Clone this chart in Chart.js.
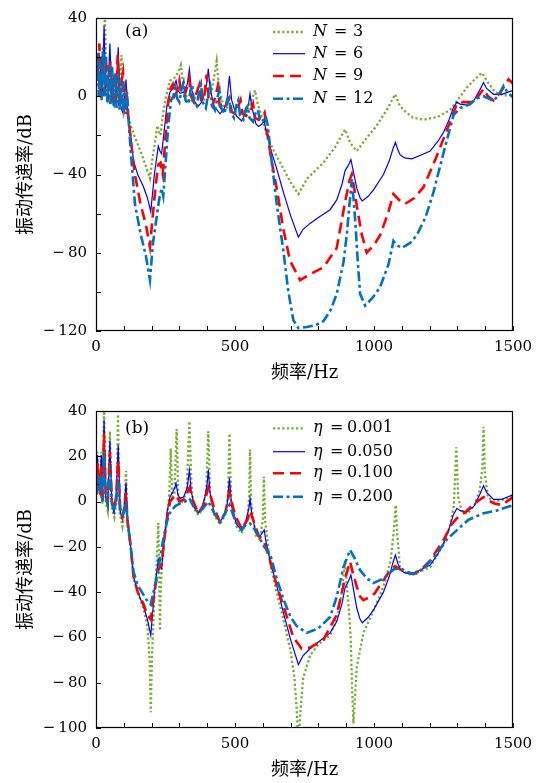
<!DOCTYPE html>
<html>
<head>
<meta charset="utf-8">
<script src="https://cdn.jsdelivr.net/npm/chart.js@4"></script>
<style>
html,body{margin:0;padding:0;background:#fff;}
#wa{position:absolute;left:0;top:0;width:542px;height:390px;}
#wb{position:absolute;left:0;top:392px;width:542px;height:391px;}
</style>
</head>
<body>
<div id="wa"><canvas id="ca"></canvas></div>
<div id="wb"><canvas id="cb"></canvas></div>
<script>
// ---------------- Data: panel (a) ----------------
const labelsA = ['3', '6', '9', '12'];
const fN3 = [2,10,18,26,32,38,50,62,72,85,92,97,105,116,125,140,160,180,194,205,214,220,226,232,240,252,266,280,295,305,312,325,338,355,370,385,400,415,425,434,442,458,475,500,530,550,565,572,580,595,614,640,674,700,728,760,818,860,896,915,938,970,1010,1050,1076,1090,1106,1140,1178,1230,1274,1300,1334,1365,1388,1410,1436,1466,1500];
const vN3 = [8,15,3,10,42,5,2,6,-1,5,21,0,-4,-10,-15,-21,-28,-36,-42,-30,-22,-15,-18,-20,-10,0,8,9,12,16,8,0,-3,-1,1,-2,-1,2,10,18,5,-5,-6,-8,-8,-6,0,3,-3,-10,-20,-28,-37,-44,-50,-42,-34,-26,-17,-24,-28,-22,-15,-6,1,-4,-7,-11,-12,-10.5,-7,-2,4.5,9,12,7,2,0.5,0.5];

const fN6 = [1,5,9,13,19,23,29,35,42,50,57,65,72,80,87,95,101,108,113,116,125,135,150,170,185,197,210,224,230,236,245,255,266,275,283,288,295,302,315,328,336,342,355,368,380,392,400,404,410,425,446,462,472,480,488,505,524,540,550,554,560,575,585,595,605,612,626,650,674,700,728,745,770,800,842,866,885,896,905,912,917,928,938,950,958,980,1000,1034,1055,1068,1077,1085,1094,1110,1136,1170,1202,1230,1250,1270,1285,1298,1310,1334,1360,1380,1394,1405,1430,1460,1480,1500];
const vN6 = [5,20.5,8,5,20.5,0,36,2,-2,27,-1,-5,2,25,-4,-8,-3,8.5,-7,-10,-20,-33,-40,-46,-52,-59,-40,-25.5,-28,-29.5,-18,-5,2,4,6,8,3,1.5,2,6,13.8,5,-3,-5,-3,2,8,14,4,-5,-9,-6,-1,10.3,-2,-10,-12.6,-8,-3,1.3,-5,-14,-15.5,-14.5,-12.5,-18,-26,-37,-49,-61,-72,-68,-65,-62,-58,-53,-45,-38,-36,-34,-32.4,-40,-47,-52,-53.5,-51,-47.5,-40,-33,-27,-23.6,-27,-30,-31.5,-32,-30,-28,-23,-18.5,-12,-6,-3,-4,-4.5,-2,3,7,4,1,1,2,3];

const fN9 = [2,8,12,16,24,30,38,44,52,58,66,72,78,84,92,97,102,110,116,125,140,160,180,194,205,215,224,232,240,248,258,268,276,282,290,300,306,318,328,335,342,352,362,372,378,388,398,405,418,430,438,445,458,470,480,488,500,512,520,527,540,555,565,572,585,598,606,614,630,650,674,698,734,770,818,866,896,912,920,930,938,955,974,1000,1022,1050,1070,1090,1112,1145,1178,1226,1274,1298,1320,1358,1380,1394,1410,1430,1455,1484,1500];
const vN9 = [8,15,27,2,20,0,16,-2,18,-3,12,-4,21,-5,8,12,-6,0,-10,-22,-40,-55,-66,-77,-60,-45,-35,-34,-40,-25,-5,4,6,0,2,8,1,0,5,9,0,-3,2,6,-2,-2,11,-1,-5,0,5,-5,-7,-4,-1,-8,-9,-5,-2,-9,-10,-8,-4,-11,-12,-9,-8,-17,-32,-47,-68,-84,-94,-91,-87.5,-77.5,-54,-43,-40,-48,-56,-70,-80,-76,-71,-60,-50,-53,-55,-52,-46.5,-30.5,-13,-4,-3,-3,1,3.7,0,-2.2,2,8.7,6.5];

const fN12 = [2,6,10,15,20,25,30,36,41,47,52,58,63,69,74,80,85,91,96,102,107,112,116,125,140,160,180,194,205,218,228,236,242,250,260,270,278,285,292,300,308,315,322,332,340,346,352,362,372,378,384,395,405,411,417,428,438,444,450,462,472,478,484,496,506,512,518,530,540,546,552,565,575,582,590,600,610,618,626,650,674,692,710,728,758,790,818,845,866,890,902,912,920,928,934,942,950,968,995,1022,1052,1070,1080,1100,1130,1154,1185,1214,1250,1286,1310,1346,1370,1394,1410,1430,1450,1466,1480,1500];
const vN12 = [10,22,0,18,-2,25,0,20,-3,16,-4,15,-5,12,-6,11,-7,8,-8,6,-9,2,-10,-28,-55,-70,-82,-94,-75,-62,-52,-47,-51,-35,-15,-2,0,4,-1,-3,4,7,-2,-4,3,6,-3,-5,3,6,-3,-6,2,5,-4,-7,0,3,-6,-9,-2,1,-8,-11,-4,-2,-10,-12,-6,-5,-11,-13,-8,-7,-12,-13,-10,-15,-26,-55,-79,-100,-114.5,-118.5,-118,-117,-115,-109,-101,-85,-71,-55,-42.5,-55,-67,-85,-101,-107,-103,-97.5,-86,-74,-76,-77.5,-75,-71,-62,-49,-29,-9.7,-6,-4,-1,0,-1,-2.4,1,5.3,2,-0.5];

// ---------------- Data: panel (b) ----------------
const labelsB = ['0.001', '0.050', '0.100', '0.200'];
const fE1 = [2,5,8,13,19,23,29,35,42,50,57,66,74,79,85,95,102,108,113,125,135,150,170,185,193,197,201,210,218,224,227,230,233,240,255,263,269,274,282,290,296,310,326,336,343,352,368,385,397,404,410,425,446,465,475,480,486,505,524,545,551,554,558,575,590,600,604,608,626,650,674,700,714,722,728,734,745,770,800,842,866,884,896,903,910,916,922,926,930,938,962,1002,1034,1060,1072,1078,1084,1094,1136,1202,1250,1275,1287,1296,1303,1315,1334,1360,1380,1390,1394,1399,1410,1430,1470,1500];
const vE1 = [5,22,6,3,22,-1,42,0,-4,31,-3,-7,0,38.5,-5,-11,-4,13.5,-10,-21,-34,-40,-47,-55,-70,-93,-70,-42,-28,-9.5,-30,-57,-38,-22,-8,2,23.5,2,3,32,3,0,4,35.5,8,-3,-6,-3,6,31,4,-6,-10,-6,3,30,0,-11,-14,-7,2,23,-1,-15,-17,-8,11,-8,-27,-40,-52,-66,-78,-92,-108,-95,-78,-68,-63,-59,-52,-40,-26,-38,-48,-60,-85,-98,-90,-73,-58,-47,-37.6,-26,-12,-1.5,-15,-30,-32.5,-29,-19,-10,-2,24,2,-4,-5.5,-2,5,15,33,12,2,0,1,3];
const fE2 = fN6;   // eta = 0.050 is the same response as N = 6
const vE2 = vN6;
const fE3 = [2,5,10,14,19,23,29,35,42,50,57,65,72,80,87,95,101,108,113,125,135,150,170,185,197,210,224,236,250,266,280,288,300,318,336,350,368,385,404,425,446,465,480,500,524,545,554,565,585,605,626,650,674,710,740,770,818,866,896,914,925,938,950,962,980,1002,1034,1060,1076,1095,1118,1140,1170,1202,1250,1280,1298,1330,1360,1394,1430,1460,1500];
const vE3 = [5,17,7,5,17,0,30,2,-1,22,0,-4,2,18,-3,-7,-3,4,-8,-20,-33,-40,-45,-50,-52,-40,-30,-28,-12,0,2,3,0,1,6,0,-5,-2,6,-3,-9,-5,4,-6,-12,-8,-4,-8,-15,-18,-26,-37,-46,-60,-65,-64.5,-61,-50,-34,-26.5,-32,-37.6,-42,-43.5,-42.5,-40.6,-34.7,-30,-28.5,-30,-31,-32,-30,-26,-17,-10,-7.4,-4.5,-1,2,-0.8,-1.5,2];
const fE4 = [2,5,10,14,19,23,29,35,42,50,57,65,72,80,87,95,101,108,113,125,135,150,170,185,197,210,224,240,255,266,285,300,320,336,350,368,385,404,425,446,465,480,500,524,540,554,575,605,626,650,674,700,722,758,800,842,866,890,914,930,950,975,998,1034,1070,1094,1130,1154,1190,1226,1260,1298,1340,1394,1440,1500];
const vE4 = [3,12,6,4,12,0,22,2,-1,16,0,-4,0,9,-4,-7,-4,0,-8,-20,-31,-37,-41,-44,-45.5,-38,-30,-18,-9,-5,-2,-1,0,1.4,-2,-5,-3,0,-5,-9,-5,-1.5,-8,-12.6,-10,-9.7,-13,-20,-23,-34,-43,-51,-55,-58,-56,-51,-42,-29,-21.4,-25,-30.3,-34,-36,-34,-30,-29.4,-31.7,-31.7,-28,-23,-17,-12.6,-8,-5.2,-4,-1.6];

// axis tick settings (values)
const xTicks = {min: 0, max: 1500, step: 100, labelEvery: 500};
const yTicksA = {min: -120, max: 40, step: 20, labelEvery: 40};
const yTicksB = {min: -100, max: 40, step: 20, labelEvery: 20};

// ---------------- Styles ----------------
const STY = [
  {color: 'rgb(119,172,48)', width: 2.3, dash: [2.2, 2.4], order: 3},
  {color: '#0000ff', width: 1.2, dash: [], order: 2},
  {color: '#ff0000', width: 2.6, dash: [11, 6], order: 1},
  {color: 'rgb(0,114,189)', width: 2.6, dash: [10, 3.5, 3, 3.5], order: 0}
];
const SERIF = '"DejaVu Serif", serif';
const TITLEF = '"DejaVu Serif", "Noto Sans CJK SC", serif';

function pts(f, v) { return f.map((x, i) => ({x: x, y: v[i]})); }
function fmtNum(v) { return v < 0 ? '\u2212\u2009' + (-v) : String(v); }

function makePanel(canvasId, series, yT, legend, cfg) {
  const datasets = series.map((s, i) => ({
    label: legend.sym + ' = ' + legend.vals[i],
    data: pts(s[0], s[1]),
    borderColor: STY[i].color,
    borderWidth: STY[i].width,
    borderDash: STY[i].dash,
    borderCapStyle: 'butt',
    pointRadius: 0,
    tension: 0,
    fill: false,
    clip: 0,
    order: STY[i].order
  }));
  const deco = {
    id: 'deco',
    afterDraw(chart) {
      const ctx = chart.ctx, a = chart.chartArea;
      const xs = chart.scales.x, ys = chart.scales.y;
      ctx.save();
      ctx.strokeStyle = '#000';
      ctx.lineWidth = 1;
      ctx.setLineDash([]);
      // inward ticks
      ctx.beginPath();
      xs.ticks.forEach(t => {
        const px = Math.round(xs.getPixelForValue(t.value)) + 0.5;
        ctx.moveTo(px, a.bottom); ctx.lineTo(px, a.bottom - 5);
      });
      ys.ticks.forEach(t => {
        const py = Math.round(ys.getPixelForValue(t.value)) + 0.5;
        ctx.moveTo(a.left, py); ctx.lineTo(a.left + 5, py);
      });
      ctx.stroke();
      // frame
      ctx.lineWidth = 1.2;
      ctx.strokeRect(a.left + 0.5, a.top + 0.5, a.right - a.left - 1, a.bottom - a.top - 1);
      // panel label
      ctx.fillStyle = '#000';
      ctx.textBaseline = 'middle';
      ctx.textAlign = 'left';
      ctx.font = '17px ' + SERIF;
      ctx.fillText(cfg.panel, 125, cfg.panelY);
      // legend
      cfg.legendY.forEach((y, i) => {
        ctx.strokeStyle = STY[i].color;
        ctx.lineWidth = STY[i].width;
        ctx.setLineDash(STY[i].dash);
        ctx.lineCap = 'butt';
        ctx.beginPath(); ctx.moveTo(273, y); ctx.lineTo(305, y); ctx.stroke();
        ctx.setLineDash([]);
        ctx.fillStyle = '#000';
        ctx.font = 'italic 16px ' + SERIF;
        ctx.fillText(legend.sym, 313, y);
        ctx.font = '16px ' + SERIF;
        ctx.fillText('=', cfg.eqX, y);
        ctx.fillText(legend.vals[i], cfg.valX, y);
      });
      ctx.restore();
    }
  };
  return new Chart(document.getElementById(canvasId), {
    type: 'line',
    data: {datasets: datasets},
    plugins: [deco],
    options: {
      responsive: true,
      maintainAspectRatio: false,
      animation: false,
      events: [],
      layout: {padding: {top: cfg.padTop, right: 29, left: 0, bottom: 0}},
      plugins: {legend: {display: false}, tooltip: {enabled: false}},
      scales: {
        x: {
          type: 'linear', min: xTicks.min, max: xTicks.max,
          grid: {display: false, drawTicks: false}, border: {display: false},
          afterFit: s => { s.height = cfg.xH; },
          ticks: {
            stepSize: xTicks.step, autoSkip: false, maxRotation: 0, padding: 7,
            color: '#000', font: {family: SERIF, size: 15},
            callback: v => (v % xTicks.labelEvery === 0 ? String(v) : '')
          },
          title: {display: true, text: '频率/Hz', color: '#000',
                  font: {family: TITLEF, size: 18}, padding: {top: 0, bottom: cfg.xTitlePad}}
        },
        y: {
          type: 'linear', min: yT.min, max: yT.max,
          grid: {display: false, drawTicks: false}, border: {display: false},
          afterFit: s => { s.width = 96; },
          ticks: {
            stepSize: yT.step, autoSkip: false, padding: 9,
            color: '#000', font: {family: SERIF, size: 15},
            callback: v => (v % yT.labelEvery === 0 ? fmtNum(v) : '')
          },
          title: {display: true, text: '振动传递率/dB', color: '#000',
                  font: {family: TITLEF, size: 18}, padding: {top: 16, bottom: 0}}
        }
      }
    }
  });
}

makePanel('ca', [[fN3, vN3], [fN6, vN6], [fN9, vN9], [fN12, vN12]], yTicksA,
  {sym: 'N', vals: labelsA},
  {panel: '(a)', panelY: 32, padTop: 13, xH: 59, xTitlePad: 6,
   legendY: [32, 53.7, 76, 98.7], eqX: 334, valX: 353});
makePanel('cb', [[fE1, vE1], [fE2, vE2], [fE3, vE3], [fE4, vE4]], yTicksB,
  {sym: 'η', vals: labelsB},
  {panel: '(b)', panelY: 37, padTop: 19, xH: 55, xTitlePad: 2,
   legendY: [36.3, 59.7, 81.3, 104.7], eqX: 330, valX: 347});
</script>
</body>
</html>
